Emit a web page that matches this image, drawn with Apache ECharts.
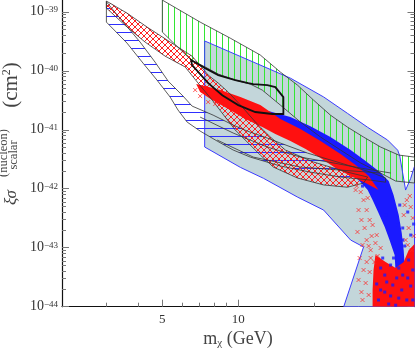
<!DOCTYPE html>
<html><head><meta charset="utf-8">
<script src="https://cdn.jsdelivr.net/npm/echarts@6/dist/echarts.min.js"></script>
<style>html,body{margin:0;padding:0;background:#fff}#c{width:416px;height:351px}</style>
</head><body><div id="c"></div>
<script>
// ---- data: [mass (GeV), sigma (cm^2)] ----
const grayRegion = [[7.36,3.2e-40],[16.1,7.5e-41],[21.8,3.6e-41],[27.1,1.9e-41],[32.6,1.1e-41],[39.1,6.7e-42],[42.9,4.5e-42],[43.7,3.6e-42],[46.1,9.5e-43],[48.3,1.5e-42],[50,2.4e-42],[50,1e-44],[26.2,1e-44],[31.4,1.03e-43],[27.9,1.35e-43],[21.8,4.35e-43],[17.2,7.2e-43],[12.6,1.5e-42],[10.2,2.3e-42],[7.36,5.1e-42]];
const blueBand = [[3.0,1.48e-39],[3.24,9.9e-40],[3.55,6.2e-40],[4.08,3.07e-40],[4.68,1.4e-40],[5.27,6.7e-41],[6.04,3.72e-41],[6.56,2.52e-41],[7.95,1.77e-41],[9.55,1.2e-41],[10.86,9.5e-42],[13.04,7.23e-42],[14.69,5.95e-42],[18.8,4.03e-42],[25.45,2.73e-42],[33.5,1.91e-42],[38.4,1.52e-42],[38.4,1.29e-42],[33.5,1.4e-42],[25.45,1.58e-42],[19.33,1.91e-42],[14.69,2.43e-42],[11.16,3.44e-42],[9.55,4.53e-42],[8.25,6.43e-42],[7.06,9.5e-42],[6.27,1.35e-41],[5.77,2.16e-41],[5.37,3.58e-41],[4.76,6.96e-41],[4.19,1.35e-40],[3.62,2.95e-40],[3.0,6.69e-40]];
const redBand = [[3.0,1.52e-39],[3.62,9.5e-40],[4.35,5.5e-40],[5.37,3.07e-40],[6.56,1.77e-40],[7.6,8.45e-41],[8.33,6.19e-41],[9.13,4.35e-41],[10.37,2.43e-41],[11.79,1.3e-41],[13.41,7.52e-42],[15.38,4.53e-42],[19.87,2.84e-42],[27.1,1.91e-42],[32.6,1.58e-42],[31.4,1.25e-42],[27.1,1.06e-42],[21.8,1.16e-42],[17.17,1.52e-42],[13.78,2.33e-42],[12.23,3.72e-42],[11.16,5.5e-42],[9.73,9.9e-42],[8.88,1.64e-41],[7.88,3.19e-41],[6.93,6.19e-41],[6.16,1.16e-40],[5.13,1.77e-40],[4.27,3.07e-40],[3.55,5.95e-40],[3.0,1.16e-39]];
const greenBand = [[5.0,1.58e-39],[7.06,6.69e-40],[9.29,3.58e-40],[12.23,1.85e-40],[14.69,9.5e-41],[17.17,5.72e-41],[19.87,3.19e-41],[23.2,1.77e-41],[27.1,1.11e-41],[31.4,7.52e-42],[36.7,5.09e-42],[43.3,3.72e-42],[50,3.44e-42],[50,1.25e-42],[42.1,1.35e-42],[36.7,1.84e-42],[30.6,2.73e-42],[25.45,4.53e-42],[21.2,7.52e-42],[17.64,1.35e-41],[14.69,2.62e-41],[12.45,4.71e-41],[11.16,5.95e-41],[9.73,6.96e-41],[8.33,8.79e-41],[7.39,1.16e-40],[6.5,1.52e-40],[5.0,4.53e-40]];
const contour = [[6.5,1.52e-40],[7.39,1.11e-40],[8.33,8.45e-41],[9.73,6.96e-41],[10.96,6.19e-41],[11.47,5.95e-41],[13.04,5.72e-41],[14.03,5.29e-41],[15.1,3.58e-41],[15.1,1.85e-41],[13.65,1.85e-41],[11.68,2.0e-41],[10.0,2.62e-41],[8.64,3.86e-41],[7.6,6.19e-41],[6.56,1.25e-40]];
const lineA = [[7.06,1.64e-41],[9.55,8.79e-42],[13.04,5.09e-42],[17.64,3.44e-42],[23.9,2.73e-42],[30.6,2.24e-42],[40.2,1.85e-42]];
const lineB = [[8.25,6.69e-42],[11.47,3.44e-42],[17.64,2.33e-42],[25.45,2.07e-42],[36.7,1.85e-42]];
const blueCore = [[13.16,2.07e-41],[16.1,1.64e-41],[19.33,1.15e-41],[23.2,7.52e-42],[27.9,4.53e-42],[32.0,2.94e-42],[36.0,1.99e-42],[39.5,1.35e-42],[41.3,7.8e-43],[43.3,3.58e-43],[44.5,1.77e-43],[45.3,9.1e-44],[45.7,5.1e-44],[46.1,2.84e-44],[42.5,1.77e-44],[41.7,7.52e-44],[39.8,1.35e-43],[38.1,2.24e-43],[36.0,3.86e-43],[34.1,6.43e-43],[32.6,9.5e-43],[30.6,1.29e-42],[26.6,2.24e-42],[23.2,3.72e-42],[20.2,5.72e-42],[17.64,8.45e-42],[15.38,1.2e-41],[13.65,1.64e-41]];
const redCore = [[6.81,5.95e-41],[7.39,5.5e-41],[8.48,4.71e-41],[10.2,3.58e-41],[12.23,2.62e-41],[14.69,1.52e-41],[17.64,1.03e-41],[21.2,6.43e-42],[25.45,3.87e-42],[29.2,2.52e-42],[32.9,1.64e-42],[36.0,9.5e-43],[32.0,1.25e-42],[27.9,1.64e-42],[24.3,2.24e-42],[21.2,3.31e-42],[18.5,4.71e-42],[16.1,6.43e-42],[14.03,8.45e-42],[12.45,1.11e-41],[10.66,1.52e-41],[9.13,2.24e-41],[7.88,3.19e-41],[7.06,4.35e-41]];
const redBlob = [[35.0,7.52e-44],[38.4,5.72e-44],[42.1,4.53e-44],[45.3,5.72e-44],[47.4,9.1e-44],[50,1.16e-43],[50,1e-44],[34.1,1e-44],[34.1,1.92e-44],[34.4,4.19e-44]];
const redPoints = [[30.6,8.79e-43],[31.4,6.43e-43],[32.3,4.35e-43],[33.2,2.95e-43],[31.7,2.16e-43],[33.8,1.58e-43],[32.9,1.07e-43],[35.0,1.2e-43],[32.3,5.72e-44],[33.2,3.87e-44],[32.0,2.52e-44],[32.9,1.58e-44],[31.1,1.3e-44],[33.5,6.69e-44],[46.6,6.43e-43],[48.3,4.9e-43],[49.2,3.19e-43],[47.4,2.16e-43],[49.6,1.58e-43],[46.1,1.35e-43],[47.9,7.52e-43],[7.06,3.72e-41],[7.6,2.95e-41],[6.75,4.71e-41],[8.1,2.73e-41],[27.9,1.29e-42],[29.5,1.11e-42],[30.0,4.35e-43],[30.8,2.95e-43],[29.7,1.85e-43],[31.1,1.11e-43],[30.3,6.69e-44],[31.4,4.19e-44],[30.0,2.84e-44],[30.8,1.77e-44],[32.3,1.35e-43],[33.5,9.1e-44],[34.7,5.72e-44],[32.6,6.96e-43],[34.1,2.43e-43],[35.4,1.64e-43],[29.2,9.5e-43],[36.7,9.9e-44],[35.7,7.23e-44],[45.3,3.58e-43],[48.8,9.1e-44],[47.0,1.11e-43],[45.7,5.29e-43]];
const bluePoints = [[36.7,4.53e-44],[38.8,2.62e-44],[40.2,1.52e-44],[42.5,3.07e-44],[44.5,1.92e-44],[36.0,1.3e-44],[39.5,1.11e-44],[46.6,1.3e-44],[43.3,4.53e-44],[48.3,2.24e-44],[37.4,6.69e-44],[41.3,6.69e-44],[35.4,2.43e-44],[49.2,4.19e-44],[47.0,4.03e-43],[48.3,1.64e-43],[45.7,1.07e-43],[49.6,2.52e-43],[44.9,2.16e-43],[43.7,5.29e-43],[31.1,1.11e-42],[38.1,1.77e-44],[43.3,1.4e-44],[41.0,2.33e-44],[38.1,3.44e-44],[44.9,3.44e-44],[47.4,6.19e-44],[40.2,5.09e-44],[36.7,1.92e-44],[49.2,1.3e-44],[42.1,1.06e-44],[47.0,3.07e-44],[42.9,2.43e-43],[44.9,1.35e-43],[38.4,3.58e-43]];
// ---- ticks ----
const xMajorTicks = [5, 10];
const xMinorTicks = [3, 4, 6, 7, 8, 9, 20, 30, 40];
const yMajorExp = [-44, -43, -42, -41, -40, -39];
const xRange = [2, 50];
const yRangeExp = [-44, -38.8];

const LOG = Math.log10;
const yMinor = [];
for (let n = -44; n <= -40; n++) for (let k = 2; k <= 9; k++) yMinor.push(n + LOG(k));

function pattern(w, h, draw) {
  const c = document.createElement('canvas'); c.width = w; c.height = h;
  const g = c.getContext('2d'); draw(g); return {image: c, repeat: 'repeat'};
}
const hatchBlue = pattern(4, 8, g => { g.fillStyle = '#2f2fff'; g.fillRect(0, 0, 4, 1); });
const hatchGreen = pattern(6, 4, g => { g.fillStyle = '#33e633'; g.fillRect(0, 0, 1, 4); });
const hatchRed = pattern(6, 6, g => { g.strokeStyle = '#ff2222'; g.lineWidth = 1;
  g.beginPath(); g.moveTo(0, 0); g.lineTo(6, 6); g.moveTo(6, 0); g.lineTo(0, 6); g.stroke(); });

const toXY = p => [LOG(p[0]), LOG(p[1])];
function shape(pts, kind, style) {
  const d = pts.map(toXY);
  return {type: 'custom', silent: true, clip: true, data: d,
    renderItem: (params, api) => {
      if (params.dataIndex !== 0) return;
      return {type: kind, shape: {points: d.map(v => api.coord(v))}, style: style};
    }};
}
const FONT = 'Liberation Serif';
const axisBase = (extra) => Object.assign({type: 'value', splitLine: {show: false}}, extra);

const chart = echarts.init(document.getElementById('c'), null, {renderer: 'canvas'});
chart.setOption({
  animation: false,
  grid: {left: 62, right: 1.5, top: 0, bottom: 44.3},
  xAxis: [
    axisBase({min: LOG(xRange[0]), max: LOG(xRange[1]), position: 'bottom',
      axisLine: {show: true, lineStyle: {color: '#111', width: 1.2}},
      axisTick: {show: true, inside: true, length: 7, customValues: xMajorTicks.map(LOG), lineStyle: {color: '#777'}},
      axisLabel: {customValues: xMajorTicks.map(LOG), formatter: v => String(Math.round(Math.pow(10, v))),
        color: '#333', fontFamily: FONT, fontSize: 13, margin: 6}}),
    axisBase({min: LOG(xRange[0]), max: LOG(xRange[1]), position: 'bottom',
      axisLine: {show: false}, axisLabel: {show: false},
      axisTick: {show: true, inside: true, length: 4, customValues: xMinorTicks.map(LOG), lineStyle: {color: '#777'}}})
  ],
  yAxis: [
    axisBase({min: yRangeExp[0], max: yRangeExp[1], position: 'left',
      axisLine: {show: true, lineStyle: {color: '#111', width: 1.2}},
      axisTick: {show: true, inside: true, length: 7, customValues: yMajorExp, lineStyle: {color: '#777'}},
      axisLabel: {customValues: yMajorExp, margin: 4,
        formatter: v => '{a|10}{b|\u2212' + Math.round(-v) + '}',
        rich: {a: {fontFamily: FONT, fontSize: 14, color: '#333', lineHeight: 14},
               b: {fontFamily: FONT, fontSize: 9, color: '#333', verticalAlign: 'top', lineHeight: 9}}}}),
    axisBase({min: yRangeExp[0], max: yRangeExp[1], position: 'left',
      axisLine: {show: false}, axisLabel: {show: false},
      axisTick: {show: true, inside: true, length: 4, customValues: yMinor, lineStyle: {color: '#777'}}}),
    axisBase({min: yRangeExp[0], max: yRangeExp[1], position: 'right',
      axisLine: {show: true, lineStyle: {color: '#111', width: 1}}, axisLabel: {show: false},
      axisTick: {show: true, inside: true, length: 7, customValues: yMajorExp, lineStyle: {color: '#777'}}}),
    axisBase({min: yRangeExp[0], max: yRangeExp[1], position: 'right',
      axisLine: {show: false}, axisLabel: {show: false},
      axisTick: {show: true, inside: true, length: 4, customValues: yMinor, lineStyle: {color: '#777'}}})
  ],
  graphic: [
    {type: 'text', x: 238, y: 339, style: {text: '{m|m}{s|\u03c7}{g| (GeV)}', textAlign: 'center', textVerticalAlign: 'middle',
      rich: {m: {fontFamily: FONT, fontSize: 18, fill: '#444'},
             s: {fontFamily: FONT, fontSize: 11, fill: '#444', padding: [8, 0, 0, 0]},
             g: {fontFamily: FONT, fontSize: 18, fill: '#444'}}}},
    {type: 'group', x: 12, y: 205, rotation: Math.PI / 2, children: [
      {type: 'text', x: 0, y: 0, style: {text: '\u03be\u03c3', fontFamily: FONT, fontStyle: 'italic', fontSize: 17, fill: '#444', textVerticalAlign: 'middle'}},
      {type: 'text', x: 52, y: -8, style: {text: '(nucleon)', fontFamily: FONT, fontSize: 12.5, fill: '#444', textAlign: 'center', textVerticalAlign: 'middle'}},
      {type: 'text', x: 50, y: 2, style: {text: 'scalar', fontFamily: FONT, fontSize: 12.5, fill: '#444', textAlign: 'center', textVerticalAlign: 'middle'}},
      {type: 'text', x: 120, y: -1, style: {text: '(cm{s|2})', fontFamily: FONT, fontSize: 21, fill: '#444', textAlign: 'center', textVerticalAlign: 'middle',
        rich: {s: {fontFamily: FONT, fontSize: 12, fill: '#444', verticalAlign: 'top'}}}}
    ]}
  ],
  series: [
    shape(grayRegion, 'polygon', {fill: '#c3d6da', stroke: 'none'}),
    shape(blueBand, 'polygon', {fill: hatchBlue, stroke: 'none'}),
    shape(redBand, 'polygon', {fill: hatchRed, stroke: 'none'}),
    shape(greenBand, 'polygon', {fill: hatchGreen, stroke: 'none'}),
    shape(grayRegion, 'polygon', {fill: 'none', stroke: '#3b3bff', lineWidth: 1}),
    shape(blueCore, 'polygon', {fill: '#1a1aff', stroke: 'none'}),
    shape(redCore, 'polygon', {fill: '#ff1010', stroke: 'none'}),
    shape(redBlob, 'polygon', {fill: '#ff1010', stroke: 'none'}),
    {type: 'scatter', silent: true, data: redPoints.map(toXY), symbol: 'path://M0 0L10 10M10 0L0 10', symbolSize: 4,
      itemStyle: {color: 'rgba(0,0,0,0)', borderColor: '#ff2020', borderWidth: 0.9}},
    {type: 'scatter', silent: true, data: bluePoints.map(toXY), symbol: 'rect', symbolSize: 3, itemStyle: {color: '#1a1aff'}},
    shape(blueBand, 'polygon', {fill: 'none', stroke: '#333', lineWidth: 0.8}),
    shape(redBand, 'polygon', {fill: 'none', stroke: '#333', lineWidth: 0.8}),
    shape(greenBand, 'polygon', {fill: 'none', stroke: '#333', lineWidth: 0.8}),
    shape(lineA, 'polyline', {fill: 'none', stroke: '#333', lineWidth: 0.8}),
    shape(lineB, 'polyline', {fill: 'none', stroke: '#333', lineWidth: 0.8}),
    shape(contour, 'polygon', {fill: 'none', stroke: '#111', lineWidth: 1.8})
  ]
});
</script></body></html>
